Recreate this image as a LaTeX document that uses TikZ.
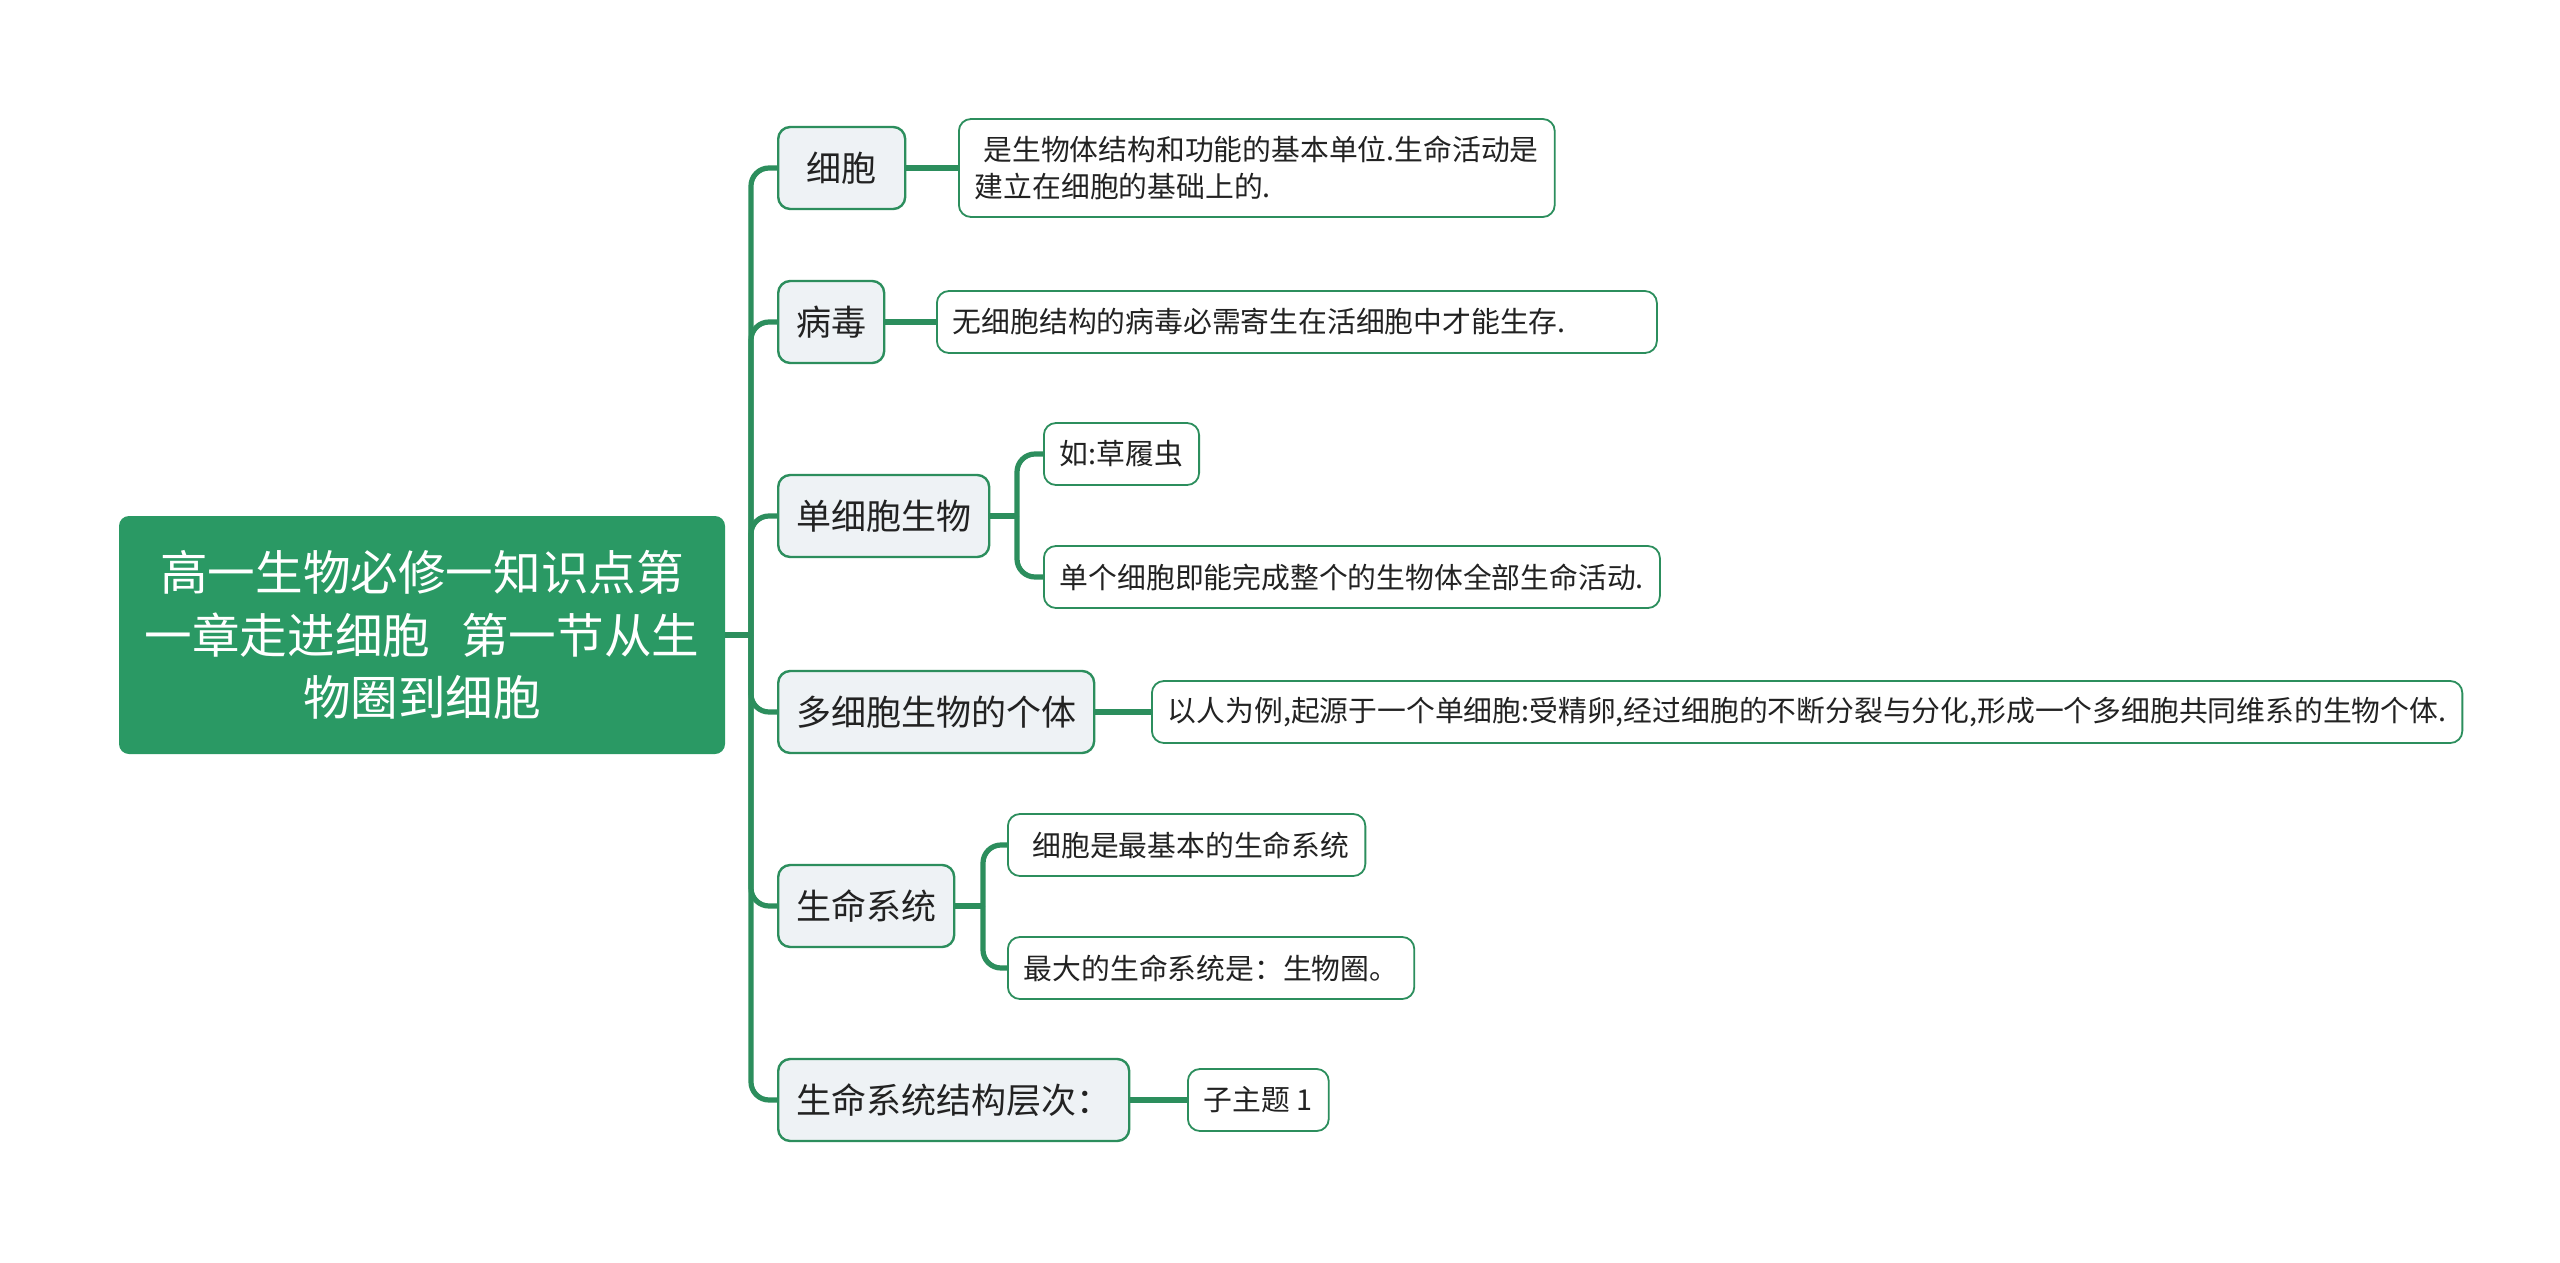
\documentclass[tikz,border=0pt]{standalone}
\usepackage{fontspec}
\newfontfamily\cjk{Noto Sans CJK SC}
\usetikzlibrary{positioning}
\usepackage{xcolor}
\definecolor{mmgreen}{RGB}{42,153,100}
\definecolor{mmline}{RGB}{44,142,93}
\definecolor{mmgray}{RGB}{238,242,245}
\definecolor{mmtext}{RGB}{34,34,34}
\tikzset{
    rootbox/.style={
        fill=mmgreen,rounded corners=5pt,text=white,align=center,
        font=\cjk\fontsize{23.8}{31.4}\selectfont,
        minimum width=303pt,minimum height=119pt
    },
    topic/.style={
        draw=mmline,line width=1.2pt,fill=mmgray,rounded corners=6pt,
        font=\cjk\fontsize{17.5}{21}\selectfont,text=mmtext,
        inner xsep=9pt,minimum height=41pt,anchor=west
    },
    leaf/.style={
        draw=mmline,line width=0.9pt,fill=white,rounded corners=6pt,
        font=\cjk\fontsize{14.4}{18.8}\selectfont,text=mmtext,align=left,
        inner xsep=8pt,minimum height=31pt,anchor=west
    },
    link/.style={
        draw=mmline,line width=2.6pt,rounded corners=9pt
    }
}

\begin{document}
\begin{tikzpicture}[x=0.5pt,y=-0.5pt]

\fill[white] (0,0) rectangle (2560,1263);

% root and main topics
\node[rootbox] (root) at (422,635)
{高一生物必修一知识点第\\一章走进细胞\hspace{0.65em}第一节从生\\物圈到细胞};

\node[topic,minimum width=63.5pt] (cell) at (777,168) {细胞};
\node[topic] (virus) at (777,322) {病毒};
\node[topic] (single) at (777,516) {单细胞生物};
\node[topic] (multi) at (777,712) {多细胞生物的个体};
\node[topic] (system) at (777,906) {生命系统};
\node[topic] (levels) at (777,1100) {生命系统结构层次：};

% details
\node[leaf,minimum height=49pt] (cellnote) at (958,168)
{\hspace*{0.3em}是生物体结构和功能的基本单位.生命活动是\\建立在细胞的基础上的.};
\node[leaf,text width=344pt] (virusnote) at (936,322) {无细胞结构的病毒必需寄生在活细胞中才能生存.};
\node[leaf] (singleA) at (1043,454) {如:草履虫};
\node[leaf] (singleB) at (1043,577) {单个细胞即能完成整个的生物体全部生命活动.};
\node[leaf] (multinote) at (1151,712)
{以人为例,起源于一个单细胞:受精卵,经过细胞的不断分裂与分化,形成一个多细胞共同维系的生物个体.};
\node[leaf] (systemA) at (1007,845) {\hspace*{0.3em}细胞是最基本的生命系统};
\node[leaf] (systemB) at (1007,968) {最大的生命系统是：生物圈。};
\node[leaf] (levelsnote) at (1187,1100) {子主题 1};

% connectors
\coordinate (trunk) at (751,635);
\draw[link] (root.east) -- (trunk);
\foreach \b in {cell,virus,single,multi,system,levels}
    \draw[link] (trunk) |- (\b.west);

\draw[link] (cell.east) -- (cellnote.west);
\draw[link] (virus.east) -- (virusnote.west);
\draw[link] (multi.east) -- (multinote.west);
\draw[link] (levels.east) -- (levelsnote.west);

\coordinate (singlesplit) at (1017,516);
\draw[link] (single.east) -- (singlesplit);
\draw[link] (singlesplit) |- (singleA.west);
\draw[link] (singlesplit) |- (singleB.west);

\coordinate (systemsplit) at (983,906);
\draw[link] (system.east) -- (systemsplit);
\draw[link] (systemsplit) |- (systemA.west);
\draw[link] (systemsplit) |- (systemB.west);

\end{tikzpicture}
\end{document}
